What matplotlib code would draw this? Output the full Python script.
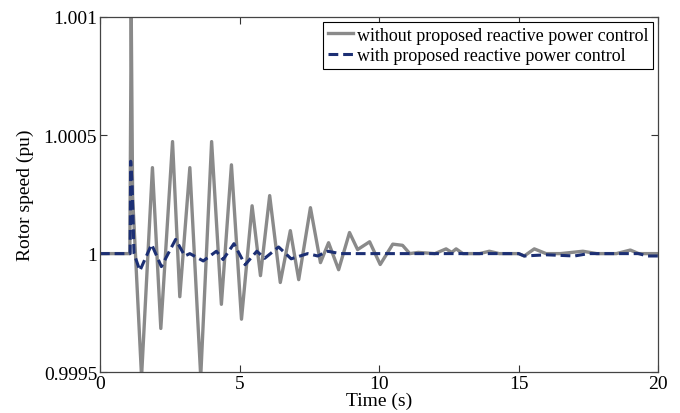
import matplotlib
matplotlib.use("Agg")
import matplotlib.pyplot as plt

# Gray: without proposed reactive power control
t_without = [0, 1.07, 1.12, 1.17, 1.49, 1.88, 2.18, 2.60, 2.86, 3.22, 3.61, 4.0, 4.35, 4.71,
             5.07, 5.45, 5.75, 6.08, 6.46, 6.82, 7.12, 7.54, 7.9, 8.19, 8.55, 8.94, 9.23,
             9.66, 10.04, 10.49, 10.84, 11.1, 11.4, 12.0, 12.4, 12.6, 12.76, 13.0, 13.6,
             13.95, 14.3, 15.0, 15.2, 15.56, 15.98, 16.5, 17.3, 17.8, 18.5, 19.0, 19.3, 20]
w_without = [1.0, 1.0, 1.00102, 1.00024, 0.99948, 1.000363, 0.999684, 1.000473, 0.999818,
             1.000363, 0.99948, 1.000473, 0.999786, 1.000375, 0.999723, 1.000202, 0.999907,
             1.000245, 0.999878, 1.000097, 0.99989, 1.000194, 0.999962, 1.000046, 0.999932,
             1.000089, 1.000017, 1.00005, 0.999954, 1.00004, 1.000035, 1.0, 1.000005, 1.0,
             1.00002, 1.000005, 1.00002, 1.0, 1.0, 1.00001, 1.0, 1.0, 0.99999, 1.00002, 1.0,
             1.0, 1.00001, 1.0, 1.0, 1.000015, 1.0, 1.0]

# Blue dashed: with proposed reactive power control
t_with = [0, 1.08, 1.1, 1.15, 1.22, 1.43, 1.85, 2.2, 2.71, 3.04, 3.22, 3.7, 4.17, 4.41, 4.8,
          5.2, 5.62, 5.9, 6.4, 6.85, 7.44, 7.8, 8.16, 8.6, 15.0, 15.2, 16.0, 17.0, 17.5,
          19.3, 19.6, 20]
w_with = [1.0, 1.0, 1.00039, 1.0003, 1.0, 0.999928, 1.000039, 0.999945, 1.00006, 0.99999,
          1.0, 0.999969, 1.00001, 0.999975, 1.000042, 0.999953, 1.00001, 0.99998, 1.000028,
          0.999978, 1.0, 0.99999, 1.00001, 1.0, 1.0, 0.99999, 0.999995, 0.99999, 1.0, 1.0,
          0.99999, 0.99999]

x_ticks = [0, 5, 10, 15, 20]
y_ticks = [0.9995, 1.0, 1.0005, 1.001]
y_ticklabels = ["0.9995", "1", "1.0005", "1.001"]
labels = ["without proposed reactive power control", "with proposed reactive power control"]

plt.rcParams['font.family'] = ['Liberation Serif', 'DejaVu Serif']

fig = plt.figure(figsize=(6.8, 4.14), dpi=100)
ax = fig.add_axes([0.147, 0.099, 0.821, 0.858])

ax.plot(t_without, w_without, color="#8a8a8a", lw=2.4, label=labels[0],
        solid_joinstyle="round")
ax.plot(t_with, w_with, color="#1c2f74", lw=2.2, ls=(0, (3.2, 1.6)), label=labels[1])

ax.set_xlim(0, 20)
ax.set_ylim(0.9995, 1.001)
ax.set_xticks(x_ticks)
ax.set_xticklabels([str(v) for v in x_ticks])
ax.set_yticks(y_ticks)
ax.set_yticklabels(y_ticklabels)
ax.tick_params(direction="in", top=True, right=True, labelsize=14, length=5, width=0.8,
               colors="#333333", labelcolor="black", pad=2)
for s in ax.spines.values():
    s.set_color("#444444")
    s.set_linewidth(0.9)

ax.set_xlabel("Time (s)", fontsize=14, labelpad=0)
ax.set_ylabel("Rotor speed (pu)", fontsize=14, labelpad=7)

leg = ax.legend(loc="upper right", fontsize=13, fancybox=False, edgecolor="black",
                framealpha=1, borderaxespad=0.3, handlelength=1.4, borderpad=0.25,
                labelspacing=0.2, handletextpad=0.2)
leg.get_frame().set_linewidth(0.8)

fig.savefig("out.png", dpi=100)
